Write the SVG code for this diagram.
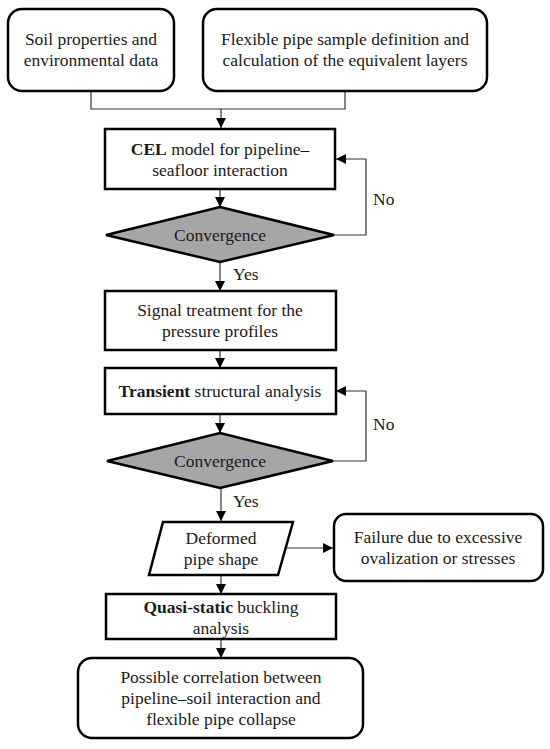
<svg xmlns="http://www.w3.org/2000/svg" width="550" height="749" viewBox="0 0 550 749">
<style>
.box{fill:#fff;stroke:#000;stroke-width:2.5}
.dia{fill:#a6a6a6;stroke:#000;stroke-width:2.5}
text{font-family:"Liberation Serif","Times New Roman",Tinos,"DejaVu Serif",serif;font-size:17.5px;fill:#1a1a1a}
.t{text-anchor:middle}
.c{fill:none;stroke:#333;stroke-width:1.2}
</style>
<defs>
<marker id="ah" viewBox="0 0 10 10" refX="10" refY="5" markerWidth="10" markerHeight="10" markerUnits="userSpaceOnUse" orient="auto">
<path d="M0,0 L10,5 L0,10 z" fill="#000"/>
</marker>
</defs>
<g id="connectors">
<path class="c" d="M91,91 V109 H345 V91"/>
<path class="c" d="M221,109 V128" marker-end="url(#ah)"/>
<path class="c" d="M220,189 V207" marker-end="url(#ah)"/>
<path class="c" d="M334,235 H366 V159 H336" marker-end="url(#ah)"/>
<path class="c" d="M220,262 V291" marker-end="url(#ah)"/>
<path class="c" d="M220,350 V368" marker-end="url(#ah)"/>
<path class="c" d="M220,414 V433" marker-end="url(#ah)"/>
<path class="c" d="M333,461 H366 V391 H336" marker-end="url(#ah)"/>
<path class="c" d="M221,488 V521" marker-end="url(#ah)"/>
<path class="c" d="M287,548 H333" marker-end="url(#ah)"/>
<path class="c" d="M221,575 V594" marker-end="url(#ah)"/>
<path class="c" d="M221,639 V658" marker-end="url(#ah)"/>
<text x="373" y="205">No</text>
<text x="233" y="280">Yes</text>
<text x="373" y="430">No</text>
<text x="233" y="507">Yes</text>
</g>
<g id="soil">
<rect class="box" x="8" y="9" width="166" height="82" rx="14"/>
<text class="t" x="91" y="45">Soil properties and</text>
<text class="t" x="91" y="66">environmental data</text>
</g>
<g id="pipe">
<rect class="box" x="203" y="9" width="284" height="82" rx="14"/>
<text class="t" x="345" y="45">Flexible pipe sample definition and</text>
<text class="t" x="345" y="66">calculation of the equivalent layers</text>
</g>
<g id="cel">
<rect class="box" x="105" y="129" width="230" height="60"/>
<text class="t" x="220" y="155"><tspan font-weight="bold">CEL</tspan> model for pipeline–</text>
<text class="t" x="220" y="176">seafloor interaction</text>
</g>
<g id="conv1">
<polygon class="dia" points="220,207 334,235 220,262 106,235"/>
<text class="t" x="220" y="241">Convergence</text>
</g>
<g id="signal">
<rect class="box" x="105" y="291" width="231" height="59"/>
<text class="t" x="220" y="316">Signal treatment for the</text>
<text class="t" x="220" y="337">pressure profiles</text>
</g>
<g id="transient">
<rect class="box" x="105" y="368" width="231" height="46"/>
<text class="t" x="220" y="397"><tspan font-weight="bold">Transient</tspan>  structural analysis</text>
</g>
<g id="conv2">
<polygon class="dia" points="220,433 333,461 220,488 107,461"/>
<text class="t" x="220" y="467">Convergence</text>
</g>
<g id="deformed">
<polygon class="box" points="163,522 293,522 278,575 149,575"/>
<text class="t" x="221" y="544">Deformed</text>
<text class="t" x="221" y="565">pipe shape</text>
</g>
<g id="failure">
<rect class="box" x="334" y="514" width="209" height="67" rx="12"/>
<text class="t" x="438" y="543">Failure due to excessive</text>
<text class="t" x="438" y="564">ovalization or stresses</text>
</g>
<g id="quasi">
<rect class="box" x="106" y="594" width="230" height="45"/>
<text class="t" x="221" y="613"><tspan font-weight="bold">Quasi-static</tspan> buckling</text>
<text class="t" x="221" y="634">analysis</text>
</g>
<g id="result">
<rect class="box" x="78" y="658" width="285" height="80" rx="14"/>
<text class="t" x="221" y="683">Possible correlation between</text>
<text class="t" x="221" y="704">pipeline–soil interaction and</text>
<text class="t" x="221" y="725">flexible pipe collapse</text>
</g>
</svg>
